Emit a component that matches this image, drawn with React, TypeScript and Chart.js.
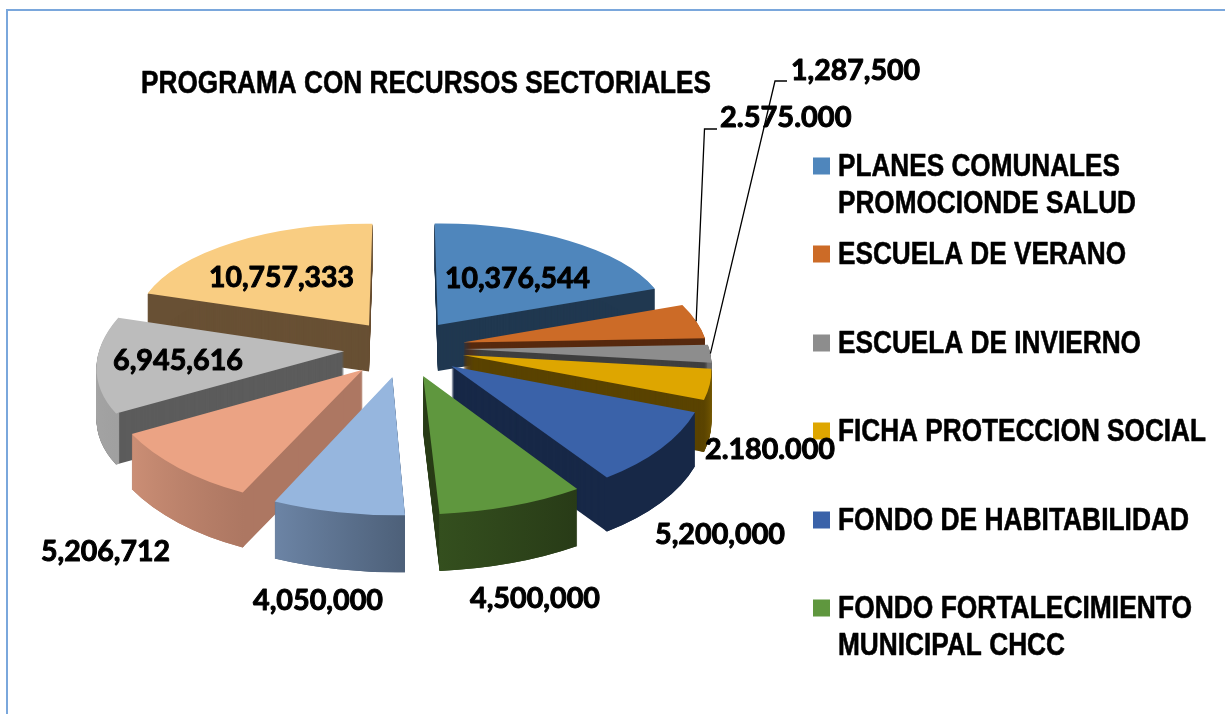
import React, { useEffect, useRef } from "react";
import { Chart, registerables } from "chart.js";

Chart.register(...registerables);

const chartTitle = "PROGRAMA CON RECURSOS SECTORIALES";
const sliceNames = [
  "PLANES COMUNALES PROMOCIONDE SALUD",
  "ESCUELA DE VERANO",
  "ESCUELA DE INVIERNO",
  "FICHA PROTECCION SOCIAL",
  "FONDO DE HABITABILIDAD",
  "FONDO FORTALECIMIENTO MUNICIPAL CHCC",
  "",
  "",
  "",
  "",
];
const sliceValues = [10376544, 2575000, 1287500, 2180000, 5200000, 4500000, 4050000, 5206712, 6945616, 10757333];
const valueLabels = [
  "10,376,544",
  "2.575.000",
  "1,287,500",
  "2.180.000",
  "5,200,000",
  "4,500,000",
  "4,050,000",
  "5,206,712",
  "6,945,616",
  "10,757,333",
];
const topColors = ["#4f86bc", "#cc6b27", "#8d8d8d", "#dea600", "#3a62a9", "#5f973e", "#96b6de", "#eba384", "#bcbcbc", "#f9cd82"];
const sideColors = ["#203850", "#57290e", "#3f3f3f", "#5a4300", "#172847", "#2a3e18", "#4d6079", "#ad7762", "#5c5c5c", "#685034"];
const rimLeftColors = ["#203850", "#57290e", "#3f3f3f", "#5a4300", "#172847", "#344f1e", "#6c84a5", "#cb8e75", "#a0a0a0", "#685034"];
const rimRightColors = ["#203850", "#57290e", "#6e6e6e", "#7a5c00", "#172847", "#283b17", "#4d6079", "#ad7762", "#a8a8a8", "#685034"];

// Legend rows: [first line, optional second line], with layout kept alongside
const legendRows = [
  { swatch: 0, lines: ["PLANES COMUNALES", "PROMOCIONDE SALUD"], ys: [166, 203], widths: [282, 298] },
  { swatch: 1, lines: ["ESCUELA DE VERANO"], ys: [254], widths: [288] },
  { swatch: 2, lines: ["ESCUELA DE INVIERNO"], ys: [343], widths: [303] },
  { swatch: 3, lines: ["FICHA PROTECCION SOCIAL"], ys: [431], widths: [368] },
  { swatch: 4, lines: ["FONDO DE HABITABILIDAD"], ys: [520], widths: [351] },
  { swatch: 5, lines: ["FONDO FORTALECIMIENTO", "MUNICIPAL CHCC"], ys: [608, 645], widths: [354, 227] },
];

// Value-label layout: left edge, vertical middle, rendered width
const labelLeft = [445, 720, 791, 705, 655, 470, 253, 41, 113, 209];
const labelMiddle = [278, 117, 70, 449, 534, 598, 600, 551, 360, 277];
const labelWidth = [145, 132, 129, 130, 130, 130, 130, 129, 130, 145];

// 3D camera of the exploded pie
const CENTER_X = 404;
const CENTER_Y = 348;
const SCALE_X = 245;
const SCALE_Y = 117;
const PERSPECTIVE = 0.107;
const EXPLODE = 0.245;
const DEPTH = 50;

const project = (X: number, Y: number) => {
  const s = 1 / (1 - PERSPECTIVE * Y);
  return { x: CENTER_X + SCALE_X * X * s, y: CENTER_Y + SCALE_Y * Y * s, s };
};

const pie3d = {
  id: "pie3d",
  beforeDatasetDraw(chart: any) {
    const ctx: CanvasRenderingContext2D = chart.ctx;
    const els: any[] = chart.getDatasetMeta(0).data;
    const order = els
      .map((el, i) => ({ i, depthKey: Math.sin((el.startAngle + el.endAngle) / 2) }))
      .sort((a, b) => a.depthKey - b.depthKey);

    for (const { i } of order) {
      const el = els[i];
      const R = el.outerRadius;
      const a1 = el.startAngle;
      const a2 = el.endAngle;
      const mid = (a1 + a2) / 2;
      const ox = EXPLODE * Math.cos(mid);
      const oy = EXPLODE * Math.sin(mid);
      const T = project(ox, oy);
      const u1 = [Math.cos(a1), Math.sin(a1)];
      const u2 = [Math.cos(a2), Math.sin(a2)];
      const C1 = project(ox + u1[0], oy + u1[1]);
      const C2 = project(ox + u2[0], oy + u2[1]);
      const det = u1[0] * u2[1] - u2[0] * u1[1];
      const d1x = (C1.x - T.x) / R, d1y = (C1.y - T.y) / R;
      const d2x = (C2.x - T.x) / R, d2y = (C2.y - T.y) / R;
      const m11 = (d1x * u2[1] - d2x * u1[1]) / det;
      const m12 = (d2x * u1[0] - d1x * u2[0]) / det;
      const m21 = (d1y * u2[1] - d2y * u1[1]) / det;
      const m22 = (d2y * u1[0] - d1y * u2[0]) / det;

      const rimScale = (C1.s + C2.s) / 2;
      const depth = Math.round(DEPTH * rimScale);
      const baseOptions = el.options;
      const baseInner = el.innerRadius;

      const place = (dy: number) => {
        ctx.translate(T.x, T.y + dy);
        ctx.transform(m11, m21, m12, m22, 0, 0);
        ctx.translate(-el.x, -el.y);
      };
      const paint = (fill: any, dy: number) => {
        el.options = { ...baseOptions, backgroundColor: fill, borderWidth: 0, offset: 0, spacing: 0 };
        ctx.save();
        place(dy);
        el.draw(ctx);
        ctx.restore();
      };

      // side faces
      for (let dy = depth; dy >= 1; dy--) paint(sideColors[i], dy);

      // outer rim, shaded from left to right
      const leftFirst = C1.x <= C2.x;
      const L = leftFirst ? u1 : u2;
      const Rt = leftFirst ? u2 : u1;
      const grad = ctx.createLinearGradient(el.x + R * L[0], el.y + R * L[1], el.x + R * Rt[0], el.y + R * Rt[1]);
      grad.addColorStop(0, rimLeftColors[i]);
      grad.addColorStop(1, rimRightColors[i]);
      el.innerRadius = R * 0.985;
      for (let dy = depth; dy >= 1; dy--) paint(grad, dy);
      el.innerRadius = baseInner;

      // top face
      paint(topColors[i], 0);
      el.options = baseOptions;
    }
    return false;
  },
  afterDraw(chart: any) {
    const ctx: CanvasRenderingContext2D = chart.ctx;
    const els: any[] = chart.getDatasetMeta(0).data;
    ctx.save();

    // frame
    ctx.strokeStyle = "#7aa7dc";
    ctx.lineWidth = 2;
    ctx.beginPath();
    ctx.moveTo(7, 714);
    ctx.lineTo(7, 10);
    ctx.lineTo(1225, 10);
    ctx.stroke();

    const heavyText = (text: string, x: number, y: number, width: number, weight: number) => {
      ctx.fillText(text, x, y, width);
      ctx.lineWidth = weight;
      ctx.strokeStyle = "#000";
      ctx.lineJoin = "round";
      ctx.strokeText(text, x, y, width);
    };

    ctx.fillStyle = "#000";
    ctx.textBaseline = "middle";
    ctx.textAlign = "left";

    // title
    ctx.font = 'bold 32px "Liberation Sans Narrow", "Liberation Sans"';
    heavyText(chartTitle, 141, 84, 570, 0.6);

    // legend
    for (const row of legendRows) {
      ctx.fillStyle = topColors[row.swatch];
      ctx.fillRect(813, row.ys[0] - 8.5, 17, 17);
      ctx.fillStyle = "#000";
      row.lines.forEach((line, k) => heavyText(line, 838, row.ys[k] + 1, row.widths[k], 0.6));
    }

    // leader lines, anchored on the slice rims
    const leader = (i: number, elbowX: number, elbowY: number, endX: number) => {
      const el = els[i];
      const mid = (el.startAngle + el.endAngle) / 2;
      const r = 1 + EXPLODE;
      const p = project(r * Math.cos(mid), r * Math.sin(mid));
      ctx.beginPath();
      ctx.moveTo(p.x, p.y);
      ctx.lineTo(elbowX, elbowY);
      ctx.lineTo(endX, elbowY);
      ctx.strokeStyle = "#000";
      ctx.lineWidth = 1.3;
      ctx.lineJoin = "miter";
      ctx.stroke();
    };
    leader(1, 704.5, 129, 717);
    leader(2, 775, 81, 787);

    // value labels
    ctx.font = 'bold 29px Lato';
    ctx.fillStyle = "#000";
    valueLabels.forEach((label, i) => heavyText(label, labelLeft[i], labelMiddle[i] + 1, labelWidth[i], 1));
    ctx.restore();
  },
};

export default function App() {
  const ref = useRef<HTMLCanvasElement>(null);
  useEffect(() => {
    document.body.style.margin = "0";
    document.body.style.background = "#fff";
    const chart = new Chart(ref.current as HTMLCanvasElement, {
      type: "pie",
      data: {
        labels: sliceNames,
        datasets: [{ data: sliceValues, backgroundColor: topColors, borderWidth: 0 }],
      },
      options: {
        responsive: false,
        animation: false,
        devicePixelRatio: 1,
        layout: { padding: 0 },
        plugins: { legend: { display: false }, tooltip: { enabled: false }, title: { display: false } },
      },
      plugins: [pie3d],
    } as any);
    return () => chart.destroy();
  }, []);
  return <canvas ref={ref} width={1225} height={714} style={{ display: "block" }} />;
}
